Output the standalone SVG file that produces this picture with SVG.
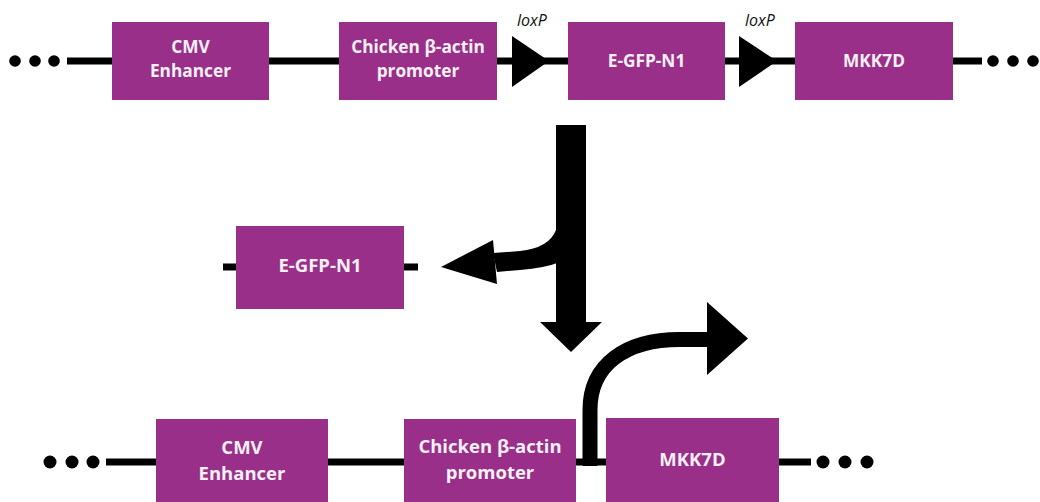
<svg xmlns="http://www.w3.org/2000/svg" width="1040" height="502" viewBox="0 0 1040 502">
<style>
.box{fill:#992f88;}
.lbl{font-family:"Open Sans","Liberation Sans",sans-serif;font-weight:700;fill:#f7f0f6;text-anchor:middle;}
.t1{font-size:17.3px;}
.t2{font-size:18.5px;}
.lox{font-family:"Open Sans","Liberation Sans",sans-serif;font-style:italic;font-size:16px;fill:#111;}
.dna{stroke:#000;stroke-width:7;fill:none;}
.dot{fill:#000;}
</style>
<rect width="1040" height="502" fill="#fff"/>
<g id="connectors">
  <!-- top construct backbone -->
  <line class="dna" x1="67" y1="61" x2="982" y2="61"/>
  <circle class="dot" cx="15" cy="61" r="5.8"/>
  <circle class="dot" cx="35" cy="61" r="5.8"/>
  <circle class="dot" cx="54" cy="61" r="5.8"/>
  <circle class="dot" cx="993" cy="61" r="5.8"/>
  <circle class="dot" cx="1013" cy="61" r="5.8"/>
  <circle class="dot" cx="1033" cy="61" r="5.8"/>
  <!-- excised fragment backbone -->
  <line class="dna" x1="223" y1="267" x2="418" y2="267"/>
  <!-- bottom construct backbone -->
  <line class="dna" x1="106" y1="462" x2="811" y2="462"/>
  <circle class="dot" cx="50" cy="462" r="6.5"/>
  <circle class="dot" cx="72" cy="462" r="6.5"/>
  <circle class="dot" cx="93" cy="462" r="6.5"/>
  <circle class="dot" cx="823" cy="462" r="6.5"/>
  <circle class="dot" cx="845" cy="462" r="6.5"/>
  <circle class="dot" cx="867" cy="462" r="6.5"/>
  <!-- big down arrow -->
  <polygon points="556,125 586,125 586,322 602,322 571,352 540,322 556,322" fill="#000"/>
  <!-- branch arrow to excised fragment -->
  <path d="M 493 253 L 520 251 Q 549 248 556 230 L 560 230 L 560 262 Q 545 268 520 270 L 497 272 Z" fill="#000"/>
  <polygon points="441,267 493,240 497,284" fill="#000"/>
  <!-- promoter bent arrow -->
  <path d="M 590 466 L 590 410 C 590 365 625 339.5 680 339.5 L 710 339.5" stroke="#000" stroke-width="15" fill="none"/>
  <polygon points="707,302 748,338.5 707,375" fill="#000"/>
</g>
<g id="loxP1">
  <polygon points="512,36 549,61 512,87" fill="#000"/>
  <text class="lox" x="517" y="26">loxP</text>
</g>
<g id="loxP2">
  <polygon points="739,36 777,61 739,87" fill="#000"/>
  <text class="lox" x="745" y="26">loxP</text>
</g>
<g id="top-cmv">
  <rect class="box" x="112" y="22" width="157" height="78"/>
  <text class="lbl t1" x="190.5" y="53.3">CMV</text>
  <text class="lbl t1" x="190.5" y="76.7">Enhancer</text>
</g>
<g id="top-promoter">
  <rect class="box" x="339" y="22" width="158" height="78"/>
  <text class="lbl t1" x="418" y="53.3">Chicken β-actin</text>
  <text class="lbl t1" x="418" y="76.7">promoter</text>
</g>
<g id="top-egfp">
  <rect class="box" x="568" y="22" width="157" height="78"/>
  <text class="lbl t1" x="646.5" y="67">E-GFP-N1</text>
</g>
<g id="top-mkk7d">
  <rect class="box" x="795" y="22" width="158" height="78"/>
  <text class="lbl t1" x="874" y="67">MKK7D</text>
</g>
<g id="excised-egfp">
  <rect class="box" x="236" y="226" width="168" height="83"/>
  <text class="lbl t2" x="320" y="272">E-GFP-N1</text>
</g>
<g id="bottom-cmv">
  <rect class="box" x="156" y="419" width="172" height="86"/>
  <text class="lbl t2" x="242" y="453.8">CMV</text>
  <text class="lbl t2" x="242" y="479.5">Enhancer</text>
</g>
<g id="bottom-promoter">
  <rect class="box" x="404" y="419" width="172" height="86"/>
  <text class="lbl t2" x="490" y="453">Chicken β-actin</text>
  <text class="lbl t2" x="490" y="478.5">promoter</text>
</g>
<g id="bottom-mkk7d">
  <rect class="box" x="606" y="418" width="173" height="87"/>
  <text class="lbl t2" x="692.5" y="466">MKK7D</text>
</g>
</svg>
